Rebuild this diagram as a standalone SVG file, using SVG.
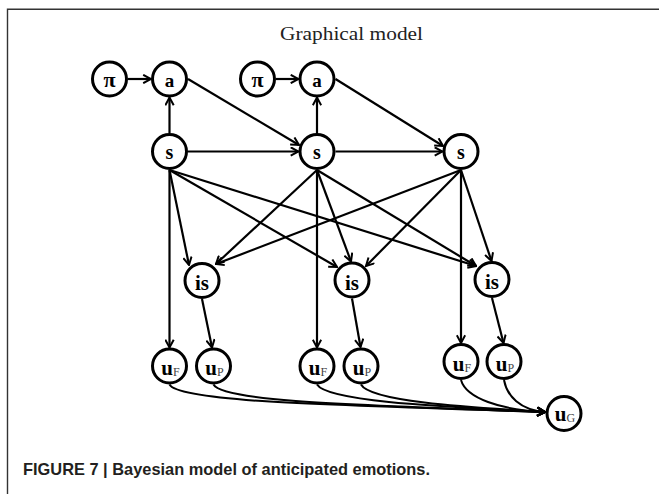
<svg xmlns="http://www.w3.org/2000/svg" width="659" height="494" viewBox="0 0 659 494">
<style>
.frame{stroke:#333;stroke-width:1.4;fill:none}
.node circle{fill:#fff;stroke:#000;stroke-width:3}
.lbl{font-family:"Liberation Serif","Times New Roman",serif;font-weight:bold;fill:#000;text-anchor:middle}
.sub{font-weight:normal;fill:#444;font-size:12px}
.edge{stroke:#000;stroke-width:2.2;fill:none;marker-end:url(#arr)}
.curve{stroke:#000;stroke-width:2;fill:none;marker-end:url(#arr)}
.title{font-family:"Liberation Serif","Times New Roman",serif;font-size:19.5px;fill:#222;text-anchor:middle}
.caption{font-family:"Liberation Sans",Arial,sans-serif;font-weight:bold;font-size:17px;fill:#231f20}
</style>
<defs>
<marker id="arr" viewBox="0 0 10 10" refX="9" refY="5" markerWidth="10" markerHeight="10" markerUnits="userSpaceOnUse" orient="auto">
<path d="M1.2,0.8 L9,5 L1.2,9.2" fill="none" stroke="#000" stroke-width="2"/>
</marker>
</defs>
<rect width="659" height="494" fill="#fff"/>
<path class="frame" d="M7.5,494 V9.3 H659"/>
<text class="title" x="351.5" y="40" textLength="143" lengthAdjust="spacingAndGlyphs">Graphical model</text>

<g id="connectors">
<line class="edge" x1="128" y1="79" x2="151" y2="79"/>
<line class="edge" x1="276" y1="79" x2="298.5" y2="79"/>
<line class="edge" x1="169.5" y1="133" x2="169.5" y2="97.5"/>
<line class="edge" x1="317" y1="133" x2="317" y2="97.5"/>
<line class="edge" x1="188" y1="79" x2="299" y2="145"/>
<line class="edge" x1="335.5" y1="79" x2="443" y2="146"/>
<line class="edge" x1="188" y1="151.5" x2="298.5" y2="151.5"/>
<line class="edge" x1="335.5" y1="151.5" x2="442.5" y2="151.5"/>
<line class="edge" x1="169.5" y1="170" x2="169.5" y2="347.5"/>
<line class="edge" x1="317" y1="170" x2="317" y2="347.5"/>
<line class="edge" x1="461" y1="170" x2="461" y2="343"/>
<line class="edge" x1="169.5" y1="170" x2="189" y2="265"/>
<line class="edge" x1="169.5" y1="170" x2="337" y2="267"/>
<line class="edge" x1="169.5" y1="170" x2="476" y2="266"/>
<line class="edge" x1="317" y1="170" x2="216" y2="264"/>
<line class="edge" x1="317" y1="170" x2="351" y2="261.5"/>
<line class="edge" x1="317" y1="170" x2="476" y2="266"/>
<line class="edge" x1="461" y1="170" x2="216" y2="264"/>
<line class="edge" x1="461" y1="170" x2="366" y2="266"/>
<line class="edge" x1="461" y1="170" x2="491.5" y2="261"/>
<line class="edge" x1="202" y1="299" x2="212" y2="347.5"/>
<line class="edge" x1="352" y1="298.5" x2="360.5" y2="347"/>
<line class="edge" x1="492" y1="298" x2="503.5" y2="343"/>
<path class="curve" d="M169.5,384.5 C179,402 330,405 545,412"/>
<path class="curve" d="M213.5,384.5 C223,402 360,405 545,412"/>
<path class="curve" d="M317,384.5 C327,401 430,406 545,412"/>
<path class="curve" d="M361,384.5 C370,401 460,407 545,412"/>
<path class="curve" d="M461,380 C466,398 500,410 545,412"/>
<path class="curve" d="M504,380 C507,396 520,410 545,412"/>
</g>

<g id="pi1" class="node"><circle cx="109.5" cy="79" r="17"/><text class="lbl" x="109.5" y="86.5" font-size="22">π</text></g>
<g id="a1" class="node"><circle cx="169.5" cy="79" r="17"/><text class="lbl" x="169.5" y="87" font-size="19">a</text></g>
<g id="pi2" class="node"><circle cx="257.5" cy="79" r="17"/><text class="lbl" x="257.5" y="86.5" font-size="22">π</text></g>
<g id="a2" class="node"><circle cx="317" cy="79" r="17"/><text class="lbl" x="317" y="87" font-size="19">a</text></g>
<g id="s1" class="node"><circle cx="169.5" cy="151.5" r="17"/><text class="lbl" x="169.5" y="158.5" font-size="20">s</text></g>
<g id="s2" class="node"><circle cx="317" cy="151.5" r="17"/><text class="lbl" x="317" y="158.5" font-size="20">s</text></g>
<g id="s3" class="node"><circle cx="461" cy="151.5" r="17"/><text class="lbl" x="461" y="158.5" font-size="20">s</text></g>
<g id="is1" class="node"><circle cx="202" cy="280.5" r="17"/><text class="lbl" x="202" y="290" font-size="21">is</text></g>
<g id="is2" class="node"><circle cx="352" cy="280" r="17"/><text class="lbl" x="352" y="289.5" font-size="21">is</text></g>
<g id="is3" class="node"><circle cx="492" cy="279.5" r="17"/><text class="lbl" x="492" y="289" font-size="21">is</text></g>
<g id="uF1" class="node"><circle cx="169.5" cy="366" r="17"/><text class="lbl" x="170.5" y="375" font-size="21">u<tspan class="sub" dy="1">F</tspan></text></g>
<g id="uP1" class="node"><circle cx="213.5" cy="366" r="17"/><text class="lbl" x="214.5" y="375" font-size="21">u<tspan class="sub" dy="1">P</tspan></text></g>
<g id="uF2" class="node"><circle cx="317" cy="366" r="17"/><text class="lbl" x="318" y="375" font-size="21">u<tspan class="sub" dy="1">F</tspan></text></g>
<g id="uP2" class="node"><circle cx="361" cy="366" r="17"/><text class="lbl" x="362" y="375" font-size="21">u<tspan class="sub" dy="1">P</tspan></text></g>
<g id="uF3" class="node"><circle cx="461" cy="361.5" r="17"/><text class="lbl" x="462" y="370.5" font-size="21">u<tspan class="sub" dy="1">F</tspan></text></g>
<g id="uP3" class="node"><circle cx="504" cy="361.5" r="17"/><text class="lbl" x="505" y="370.5" font-size="21">u<tspan class="sub" dy="1">P</tspan></text></g>
<g id="uG" class="node"><circle cx="564" cy="413.5" r="17"/><text class="lbl" x="565" y="420.5" font-size="21">u<tspan class="sub" dy="1">G</tspan></text></g>

<text class="caption" x="23" y="475" textLength="407" lengthAdjust="spacingAndGlyphs">FIGURE 7 | Bayesian model of anticipated emotions.</text>
</svg>
